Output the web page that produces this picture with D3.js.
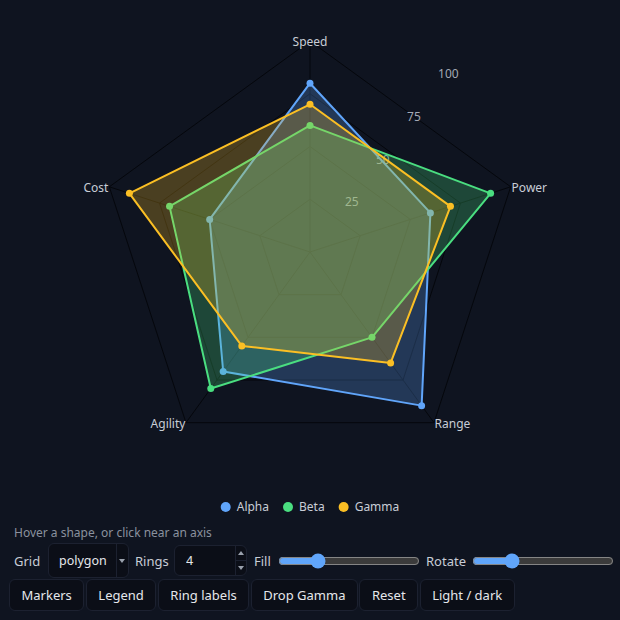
<!DOCTYPE html>
<html>
<head>
<meta charset="utf-8">
<script src="https://cdn.jsdelivr.net/npm/d3@7"></script>
<style>
  html, body { margin: 0; padding: 0; }
  body {
    width: 620px; height: 620px; overflow: hidden; position: relative;
    background: #0f1420; color: #c8cdd6;
    font-family: "Noto Sans", sans-serif; font-size: 13px;
    color-scheme: dark;
  }
  svg { position: absolute; left: 0; top: 0; }
  .status { position: absolute; left: 14px; top: 524px; font-size: 12px; line-height: 18px; color: #8a919e; }
  .ctl { position: absolute; }
  .lbl { position: absolute; top: 552px; line-height: 18px; font-size: 13px; color: #c8cdd6; }
  .box {
    box-sizing: border-box; background: #0b0e17; border: 1px solid #1c2130; border-radius: 6px;
    color: #e5e7eb; font-family: inherit;
  }
  .selwrap { left: 48px; top: 543px; width: 81px; height: 35px; }
  .selwrap select {
    -webkit-appearance: none; appearance: none; width: 100%; height: 100%;
    padding: 0 0 0 10px; font-size: 12.5px; outline: none;
  }
  .selwrap .sep { position: absolute; left: 68px; top: 1px; bottom: 1px; width: 1px; background: #1c2130; }
  .selwrap .arrow {
    position: absolute; left: 71px; top: 16px; width: 0; height: 0;
    border-left: 3.5px solid transparent; border-right: 3.5px solid transparent; border-top: 4px solid #9aa1ad;
  }
  .numwrap { left: 174px; top: 545px; width: 73px; height: 31px; }
  .numwrap input {
    -moz-appearance: textfield; width: 100%; height: 100%; padding: 0 0 0 11px;
    font-size: 12.5px; outline: none;
  }
  .numwrap input::-webkit-inner-spin-button, .numwrap input::-webkit-outer-spin-button { -webkit-appearance: none; margin: 0; }
  .numwrap .sep { position: absolute; left: 61px; top: 1px; bottom: 1px; width: 1px; background: #1c2130; }
  .numwrap .mid { position: absolute; left: 61px; right: 1px; top: 15px; height: 1px; background: #1c2130; }
  .numwrap .up, .numwrap .dn {
    position: absolute; left: 64px; width: 0; height: 0;
    border-left: 3.5px solid transparent; border-right: 3.5px solid transparent;
  }
  .numwrap .up { top: 6px; border-bottom: 4px solid #9aa1ad; }
  .numwrap .dn { top: 21px; border-top: 4px solid #9aa1ad; }
  input[type=range] {
    position: absolute; top: 553px; width: 142px; height: 16px; margin: 0;
    accent-color: #60a5fa;
  }
  .buttons { position: absolute; left: 9px; top: 579px; display: flex; gap: 1.5px; }
  .buttons button {
    height: 32px; padding: 0 11.5px; font-size: 13px; cursor: pointer;
  }
</style>
</head>
<body>
<svg id="chart" width="620" height="520"></svg>
<div class="status">Hover a shape, or click near an axis</div>

<span class="lbl" style="left:14px">Grid</span>
<div class="ctl selwrap">
  <select class="box"><option>polygon</option><option>circle</option></select>
  <div class="sep"></div><div class="arrow"></div>
</div>
<span class="lbl" style="left:135px">Rings</span>
<div class="ctl numwrap">
  <input class="box" type="number" value="4" min="2" max="8">
  <div class="sep"></div><div class="mid"></div><div class="up"></div><div class="dn"></div>
</div>
<span class="lbl" style="left:254px">Fill</span>
<input type="range" style="left:278px" min="0" max="1" step="0.05" value="0.25">
<span class="lbl" style="left:426px">Rotate</span>
<input type="range" style="left:472px" min="-90" max="270" step="1" value="0">

<div class="buttons">
  <button class="box">Markers</button>
  <button class="box">Legend</button>
  <button class="box">Ring labels</button>
  <button class="box">Drop Gamma</button>
  <button class="box">Reset</button>
  <button class="box">Light / dark</button>
</div>

<script>
var axes = ['Speed', 'Power', 'Range', 'Agility', 'Cost'];
var seriesNames = ['Alpha', 'Beta', 'Gamma'];
var alphaValues = [80, 60, 90, 70, 50];
var betaValues = [60, 90, 50, 80, 70];
var gammaValues = [70, 70, 65, 55, 90];
var ringTicks = [25, 50, 75, 100];
var seriesColors = ['#60a5fa', '#4ade80', '#fbbf24'];

var cx = 310, cy = 252, radius = 211;
var fillOpacity = 0.25;

var series = seriesNames.map(function(name, i) {
    return { name: name, values: [alphaValues, betaValues, gammaValues][i], color: seriesColors[i] };
});

var svg = d3.select('#chart');
var rScale = d3.scaleLinear().domain([0, 100]).range([0, radius]);
var angle = d3.scalePoint().domain(axes.concat(['_end'])).range([0, 2 * Math.PI]);

function pointAt(axis, r) {
    var a = angle(axis);
    return [Math.sin(a) * r, -Math.cos(a) * r];
}

var g = svg.append('g').attr('transform', 'translate(' + cx + ',' + cy + ')');

// grid rings
var ringLine = d3.lineRadial()
    .angle(function(d) { return angle(d); })
    .curve(d3.curveLinearClosed);

g.append('g').attr('class', 'rings')
    .selectAll('path')
    .data(ringTicks)
    .join('path')
    .attr('d', function(t) { return ringLine.radius(rScale(t))(axes); })
    .attr('fill', 'none')
    .attr('stroke', '#05070c')
    .attr('stroke-width', 1);

g.append('g').attr('class', 'spokes')
    .selectAll('line')
    .data(axes)
    .join('line')
    .attr('x1', 0).attr('y1', 0)
    .attr('x2', function(d) { return pointAt(d, rScale(100))[0]; })
    .attr('y2', function(d) { return pointAt(d, rScale(100))[1]; })
    .attr('stroke', '#05070c')
    .attr('stroke-width', 1);

// ring labels, along the bisector of the first two axes
var labelAngle = (angle(axes[0]) + angle(axes[1])) / 2;
g.append('g').attr('class', 'ring-labels')
    .selectAll('text')
    .data(ringTicks)
    .join('text')
    .attr('x', function(t) { return Math.sin(labelAngle) * rScale(t) + 4; })
    .attr('y', function(t) { return -Math.cos(labelAngle) * rScale(t) - 3; })
    .attr('font-size', 12)
    .attr('fill', '#a3a9b4')
    .text(function(t) { return t; });

// axis labels
g.append('g').attr('class', 'axis-labels')
    .selectAll('text')
    .data(axes)
    .join('text')
    .attr('x', function(d) { return pointAt(d, rScale(100) + 1)[0]; })
    .attr('y', function(d) { return pointAt(d, rScale(100))[1] + 1; })
    .attr('dy', '0.35em')
    .attr('text-anchor', function(d) {
        var x = pointAt(d, 1)[0];
        return Math.abs(x) < 0.01 ? 'middle' : (x > 0 ? 'start' : 'end');
    })
    .attr('font-size', 12)
    .attr('fill', '#c8cdd6')
    .text(function(d) { return d; });

// series shapes
var shapeLine = d3.lineRadial()
    .angle(function(d, i) { return angle(axes[i]); })
    .radius(function(d) { return rScale(d); })
    .curve(d3.curveLinearClosed);

var groups = g.append('g').attr('class', 'series')
    .selectAll('g')
    .data(series)
    .join('g');

groups.append('path')
    .attr('d', function(s) { return shapeLine(s.values); })
    .attr('fill', function(s) { return s.color; })
    .attr('fill-opacity', fillOpacity)
    .attr('stroke', function(s) { return s.color; })
    .attr('stroke-width', 2)
    .attr('stroke-linejoin', 'round');

groups.selectAll('circle')
    .data(function(s) { return s.values.map(function(v, i) { return { v: v, axis: axes[i], color: s.color }; }); })
    .join('circle')
    .attr('cx', function(d) { return pointAt(d.axis, rScale(d.v))[0]; })
    .attr('cy', function(d) { return pointAt(d.axis, rScale(d.v))[1]; })
    .attr('r', 3.5)
    .attr('fill', function(d) { return d.color; });

// legend
var legend = svg.append('g').attr('class', 'legend').attr('transform', 'translate(0,507)');
var items = legend.selectAll('g').data(series).join('g');
items.append('circle').attr('r', 5).attr('cx', 5).attr('cy', 0).attr('fill', function(s) { return s.color; });
items.append('text')
    .attr('x', 16).attr('dy', '0.35em')
    .attr('font-size', 12).attr('fill', '#c8cdd6')
    .text(function(s) { return s.name; });

var offset = 0;
var starts = [];
items.each(function() {
    starts.push(offset);
    offset += this.getBBox().width + 14;
});
var total = offset - 14;
items.attr('transform', function(s, i) {
    return 'translate(' + (starts[i] + 310 - total / 2) + ',0)';
});
</script>
</body>
</html>
